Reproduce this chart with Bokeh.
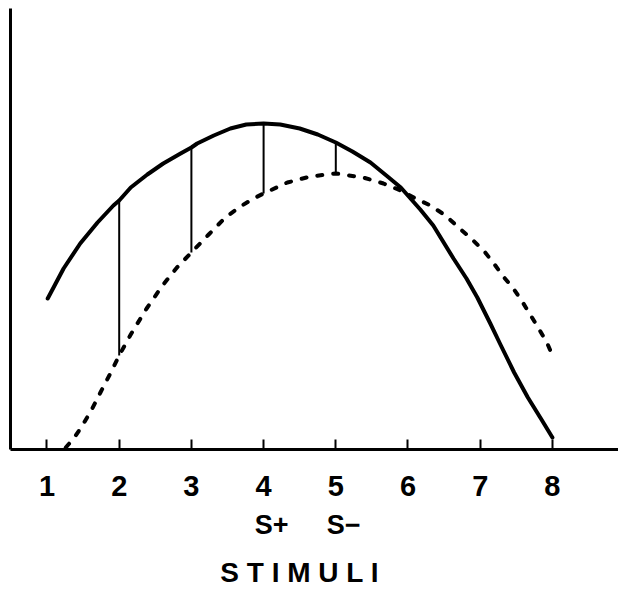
from bokeh.plotting import figure
from bokeh.models import Range1d, LinearAxis, FixedTicker
from bokeh.embed import file_html
from bokeh.resources import INLINE

# Stimulus positions along the generalization dimension
stimuli = [1, 2, 3, 4, 5, 6, 7, 8]
tick_labels = ["1", "2", "3", "4", "5", "6", "7", "8"]
sub_ticks = [4, 5]
sub_labels = ["S+", "S\u2212"]
axis_title = "S T I M U L I"

# Excitatory gradient (solid curve)
solid_x = [1.01, 1.23, 1.46, 1.70, 1.92, 2.0, 2.16, 2.39, 2.61, 2.85, 3.0, 3.08,
           3.31, 3.54, 3.76, 4.0, 4.23, 4.50, 4.75, 5.0, 5.23, 5.48, 5.70, 5.90,
           6.17, 6.35, 6.63, 6.81, 6.96, 7.14, 7.28, 7.47, 7.66, 7.84, 8.0]
solid_y = [15.1, 18.1, 20.6, 22.7, 24.4, 24.9, 26.2, 27.5, 28.6, 29.6, 30.2, 30.6,
           31.4, 32.1, 32.5, 32.6, 32.5, 32.1, 31.5, 30.7, 29.8, 28.7, 27.4, 26.2,
           24.0, 22.4, 19.1, 17.1, 15.2, 12.6, 10.5, 7.7, 5.2, 3.1, 1.2]

# Inhibitory-shifted gradient (dashed curve)
dashed_x = [1.26, 1.38, 1.49, 1.62, 1.74, 1.87, 2.0, 2.16, 2.38, 2.60, 2.80, 3.0,
            3.24, 3.47, 3.68, 3.86, 4.0, 4.33, 4.65, 5.0, 5.38, 5.66, 5.90, 6.08,
            6.31, 6.52, 6.70, 6.89, 7.07, 7.21, 7.32, 7.46, 7.59, 7.70, 7.81, 7.93, 8.0]
dashed_y = [0.2, 1.2, 2.4, 4.0, 5.7, 7.5, 9.4, 11.5, 14.1, 16.4, 18.2, 19.7,
            21.5, 23.2, 24.3, 25.1, 25.6, 26.7, 27.3, 27.6, 27.2, 26.6, 25.9, 25.2,
            24.4, 23.4, 22.2, 21.0, 19.7, 18.4, 17.3, 16.1, 14.7, 13.4, 12.1, 10.6, 9.4]

# Stimuli where the difference between the two gradients is marked
diff_stimuli = [2, 3, 4, 5]
diff_top = [solid_y[solid_x.index(s)] for s in diff_stimuli]
diff_bottom = [dashed_y[dashed_x.index(s)] for s in diff_stimuli]

FONT = "Liberation Sans"
X_START, X_END = 0.4945, 8.9155

p = figure(width=618, height=592, output_backend="svg", toolbar_location=None,
           x_range=Range1d(X_START, X_END), y_range=Range1d(0, 44.1),
           min_border_left=10, min_border_right=0, min_border_top=8,
           min_border_bottom=143, x_axis_location=None, y_axis_location=None)
p.outline_line_color = None
p.grid.visible = False
p.background_fill_color = "white"
p.border_fill_color = "white"

# Vertical axis: bare line
yax = LinearAxis(ticker=FixedTicker(ticks=[]), axis_line_width=3,
                 axis_line_color="black", major_tick_line_color=None,
                 minor_tick_line_color=None, major_label_standoff=0,
                 major_label_text_font_size="0px")
p.add_layout(yax, "left")

# Horizontal axis with stimulus numbers
xax = LinearAxis(ticker=FixedTicker(ticks=stimuli),
                 major_label_overrides=dict(zip(stimuli, tick_labels)),
                 axis_line_width=3, axis_line_color="black",
                 major_tick_in=10, major_tick_out=0, major_tick_line_width=2,
                 major_tick_line_color="black", minor_tick_line_color=None,
                 major_label_standoff=26,
                 major_label_text_font=FONT, major_label_text_font_size="29px",
                 major_label_text_font_style="bold",
                 major_label_text_color="black")
p.add_layout(xax, "below")


def text_row(ticks, labels, size, standoff, range_name="default"):
    """An axis used only to place a row of labels under the stimulus axis."""
    return LinearAxis(x_range_name=range_name, ticker=FixedTicker(ticks=ticks),
                      major_label_overrides=dict(zip(ticks, labels)),
                      axis_line_color=None, major_tick_line_color=None,
                      minor_tick_line_color=None, major_tick_in=0,
                      major_tick_out=0, major_label_standoff=standoff,
                      major_label_text_font=FONT,
                      major_label_text_font_size=size,
                      major_label_text_font_style="bold",
                      major_label_text_color="black")


# Second row naming the reinforced and non-reinforced stimuli (the letter S
# sits under its stimulus number, the sign trails to the right)
p.extra_x_ranges["sub"] = Range1d(X_START - 0.11, X_END - 0.11)
p.add_layout(text_row(sub_ticks, sub_labels, "27px", 11, "sub"), "below")

# Axis title centred under the stimulus range
mid = (stimuli[0] + stimuli[-1]) / 2
p.add_layout(text_row([mid], [axis_title], "28px", 14), "below")

p.segment(x0=diff_stimuli, y0=diff_bottom, x1=diff_stimuli, y1=diff_top,
          line_color="black", line_width=2)
p.line(solid_x, solid_y, line_color="black", line_width=4,
       line_cap="round", line_join="round")
p.line(dashed_x, dashed_y, line_color="black", line_width=4,
       line_dash="5 11", line_cap="round", line_join="round")

open("out.html", "w").write(file_html(p, INLINE))
